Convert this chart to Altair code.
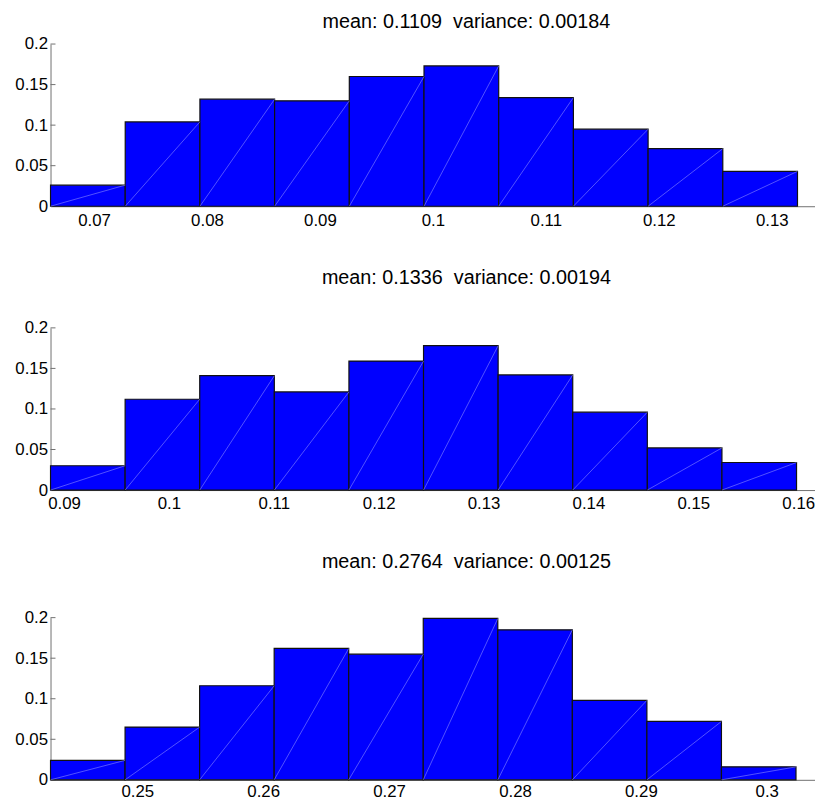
import altair as alt
import pandas as pd
import numpy as np

# ---- data ----
titles = [
    "mean: 0.1109\u00a0 variance: 0.00184",
    "mean: 0.1336\u00a0 variance: 0.00194",
    "mean: 0.2764\u00a0 variance: 0.00125",
]
heights_1 = [0.026, 0.104, 0.132, 0.130, 0.160, 0.173, 0.134, 0.095, 0.071, 0.043]
heights_2 = [0.030, 0.112, 0.141, 0.121, 0.159, 0.178, 0.142, 0.096, 0.052, 0.034]
heights_3 = [0.024, 0.065, 0.116, 0.162, 0.155, 0.199, 0.185, 0.098, 0.072, 0.016]
bin_start = [0.06615, 0.08871, 0.24311]
bin_width = [0.006613, 0.007113, 0.005921]
x_max = [0.13383, 0.16160, 0.30383]
x_ticks_1 = [0.07, 0.08, 0.09, 0.10, 0.11, 0.12, 0.13]
x_ticks_2 = [0.09, 0.10, 0.11, 0.12, 0.13, 0.14, 0.15, 0.16]
x_ticks_3 = [0.25, 0.26, 0.27, 0.28, 0.29, 0.30]
y_ticks = [0, 0.05, 0.1, 0.15, 0.2]

heights = [heights_1, heights_2, heights_3]
x_ticks = [x_ticks_1, x_ticks_2, x_ticks_3]
title_offsets = [3, 31, 37]
x_label_pad = [6, 6, 4]

FONT = "Liberation Sans"
GRAY = "#707070"
W, H = 773, 164


def panel(i):
    h = heights[i]
    edges = bin_start[i] + bin_width[i] * np.arange(len(h) + 1)
    df = pd.DataFrame({"x0": edges[:-1], "x1": edges[1:], "h": h, "z": 0.0})
    tdf = pd.DataFrame({"t": y_ticks})
    xscale = alt.Scale(domain=[bin_start[i], x_max[i]], nice=False, zero=False)
    yscale = alt.Scale(domain=[0, 0.2], nice=False, zero=False)
    xaxis = alt.Axis(values=x_ticks[i], format=".2~f", title=None,
                     labelPadding=x_label_pad[i],
                     grid=False, ticks=False, tickSize=0, labelFontSize=17,
                     labelFont=FONT, labelColor="black", domainColor=GRAY)
    yaxis = alt.Axis(values=y_ticks, format=".2~f", title=None, labelPadding=3,
                     grid=False, ticks=False, tickSize=0, labelFontSize=17,
                     labelFont=FONT, labelColor="black", domainColor=GRAY)

    ticks = alt.Chart(tdf).mark_rule(color=GRAY, strokeWidth=1).encode(
        y=alt.Y("t:Q", scale=yscale, axis=yaxis),
        x=alt.value(0),
        x2=alt.value(5),
    )
    bars = alt.Chart(df).mark_rect(
        fill="#0000ff", stroke="#111111", strokeWidth=1.2
    ).encode(
        x=alt.X("x0:Q", scale=xscale, axis=xaxis),
        x2="x1",
        y=alt.Y("h:Q", scale=yscale, axis=yaxis),
        y2="z",
    )
    diag = alt.Chart(df).mark_rule(color="#8c8cff", strokeWidth=0.6).encode(
        x=alt.X("x0:Q", scale=xscale, axis=xaxis),
        x2="x1",
        y=alt.Y("z:Q", scale=yscale, axis=yaxis),
        y2="h",
    )
    return alt.layer(ticks, bars, diag).properties(
        width=W,
        height=H,
        title=alt.TitleParams(
            titles[i], fontSize=20, font=FONT, fontWeight="normal",
            color="black", anchor="middle", dx=34,
            offset=title_offsets[i],
        ),
    )


chart = alt.vconcat(panel(0), panel(1), panel(2), spacing=41).properties(
    padding={"left": 6, "top": 0, "right": 0, "bottom": 0},
    background="white",
).configure_view(stroke=None).configure_axis(
    labelFont=FONT, labelFontSize=17, labelColor="black",
    domainColor=GRAY, domainWidth=1, ticks=False, tickSize=0, grid=False,
)

chart.save("out.html", embed_options={"renderer": "svg", "actions": False})
